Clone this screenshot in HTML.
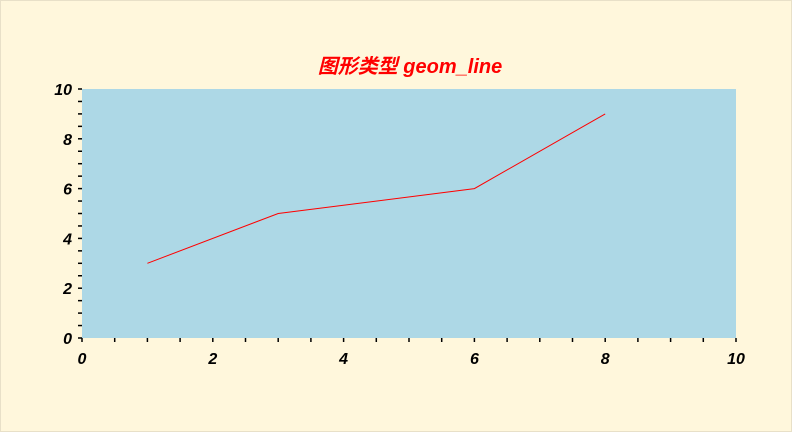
<!DOCTYPE html>
<html><head><meta charset="utf-8"><style>
body{margin:0;background:#fff7dc;}
svg{display:block;font-family:"Liberation Sans","Noto Sans CJK SC",sans-serif;}
</style></head><body>
<svg width="792" height="432">
<rect x="0.5" y="0.5" width="791" height="431" fill="#fff7dc" stroke="#e8e0c8"/>
<text x="410" y="73" text-anchor="middle" fill="#ff0000" font-size="20" font-style="italic" font-weight="bold">图形类型 geom_line</text>
<rect x="82" y="89" width="654" height="249" fill="#add8e6"/>
<g id="ticks"></g>
<polyline id="line" fill="none" stroke="#ff0000" stroke-width="1"/>
</svg>
<script>
const xs=[1,3,6,8];
const ys=[3,5,6,9];
const xTickLabels=[0,2,4,6,8,10];
const yTickLabels=[0,2,4,6,8,10];
const X=v=>82+v*65.4, Y=v=>338-v*24.9;
const ns="http://www.w3.org/2000/svg";
const g=document.getElementById('ticks');
function mk(t,a){const e=document.createElementNS(ns,t);for(const k in a)e.setAttribute(k,a[k]);g.appendChild(e);return e;}
for(let v=0;v<=10.001;v+=0.5){
  const tx=mk('line',{x1:X(v),x2:X(v),y1:338,y2:342,stroke:'#000','stroke-width':1.5});
  
  
  const ty=mk('line',{x1:78,x2:82,y1:Y(v),y2:Y(v),stroke:'#000','stroke-width':1.5});
  
  
}
xTickLabels.forEach(v=>{const t=mk('text',{x:X(v),y:364,'text-anchor':'middle','font-size':16,'font-weight':'bold','font-style':'italic'});t.textContent=v;
  
  });
yTickLabels.forEach(v=>{const t=mk('text',{x:72,y:Y(v)+6,'text-anchor':'end','font-size':16,'font-weight':'bold','font-style':'italic'});t.textContent=v;
  
  });
document.getElementById('line').setAttribute('points',xs.map((x,i)=>X(x)+','+Y(ys[i])).join(' '));
</script>
</body></html>
